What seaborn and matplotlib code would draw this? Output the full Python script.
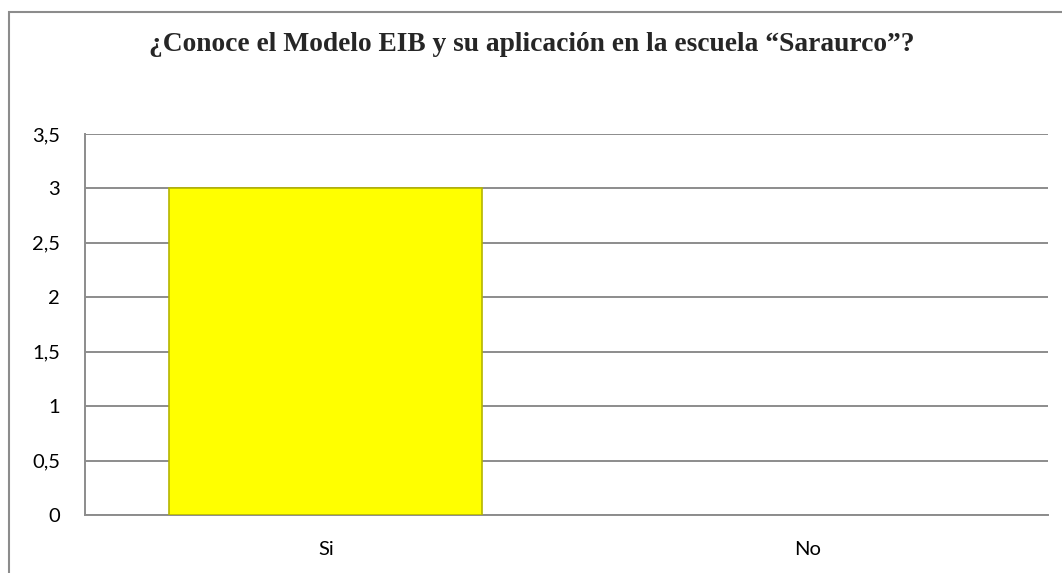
import matplotlib.pyplot as plt
import seaborn as sns
from matplotlib.patches import Rectangle
from matplotlib.ticker import FuncFormatter

TITLE = "¿Conoce el Modelo EIB y su aplicación en la escuela “Saraurco”?"
CATEGORIES = ["Si", "No"]
VALUES = [3, 0]
Y_TICKS = [0, 0.5, 1, 1.5, 2, 2.5, 3, 3.5]

sns.set_theme(style="white")
plt.rcParams["font.family"] = ["Lato", "DejaVu Sans"]

fig = plt.figure(figsize=(10.62, 5.73), dpi=100)
ax = fig.add_axes([0.080, 0.1012, 0.907, 0.665])

sns.barplot(
    x=CATEGORIES,
    y=VALUES,
    ax=ax,
    color="#ffff00",
    width=0.65,
    edgecolor="#b5b500",
    linewidth=1.2,
    saturation=1,
    zorder=3,
)
# no outline on empty bars
for bar in ax.patches:
    if bar.get_height() == 0:
        bar.set_linewidth(0)

ax.set_ylim(0, 3.5)
ax.set_yticks(Y_TICKS)
ax.yaxis.set_major_formatter(
    FuncFormatter(lambda v, _: f"{v:g}".replace(".", ","))
)
ax.yaxis.grid(True, color="#8c8c8c", linewidth=1.4, zorder=0)
ax.set_axisbelow(True)
ax.tick_params(axis="both", length=0, labelsize=14.5, colors="black")
ax.tick_params(axis="x", pad=19)
ax.tick_params(axis="y", pad=18)
ax.set_xlabel("")
ax.set_ylabel("")

for side in ["top", "right"]:
    ax.spines[side].set_visible(False)
for side in ["left", "bottom"]:
    ax.spines[side].set_color("#8c8c8c")
    ax.spines[side].set_linewidth(1.4)

fig.text(
    0.501, 0.923, TITLE,
    ha="center", va="center",
    fontsize=19.8, fontweight="bold",
    family=["Liberation Serif", "DejaVu Serif"],
)

# outer chart border (right and bottom fall outside the picture)
fig.patches.append(
    Rectangle(
        (9 / 1062, -0.1), 1.2, 1 - 12 / 573 + 0.1,
        transform=fig.transFigure, fill=False,
        edgecolor="#8c8c8c", linewidth=1.5,
    )
)

fig.savefig("out.png", dpi=100)
